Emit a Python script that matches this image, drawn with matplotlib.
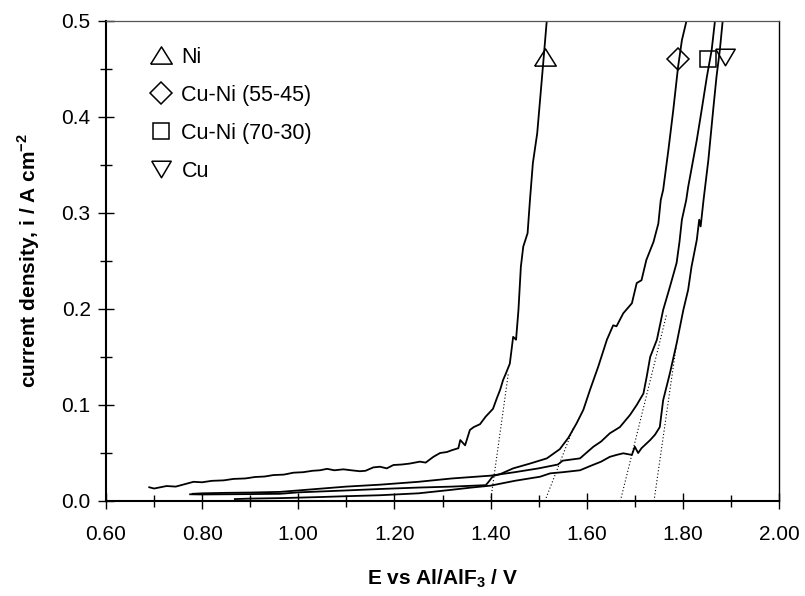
import matplotlib
matplotlib.use("Agg")
import matplotlib.pyplot as plt
from matplotlib.lines import Line2D
from matplotlib.ticker import MultipleLocator, FormatStrFormatter

plt.rcParams['font.family'] = ['Liberation Sans', 'DejaVu Sans']
plt.rcParams['mathtext.fontset'] = 'custom'
plt.rcParams['mathtext.rm'] = 'Liberation Sans'
plt.rcParams['mathtext.bf'] = 'Liberation Sans:bold'

# ---------------- data ----------------
ni_x = [0.690, 0.700, 0.726, 0.745, 0.760, 0.782, 0.800, 0.820, 0.845, 0.865, 0.890, 0.910, 0.930,
        0.948, 0.970, 0.990, 1.010, 1.030, 1.045, 1.060, 1.075, 1.094, 1.110, 1.128, 1.140, 1.156,
        1.170, 1.184, 1.198, 1.215, 1.232, 1.253, 1.265, 1.281, 1.295, 1.309, 1.320, 1.333, 1.337,
        1.347, 1.357, 1.365, 1.378, 1.390, 1.405, 1.413, 1.420, 1.426, 1.432, 1.440, 1.447, 1.453,
        1.458, 1.463, 1.468, 1.477, 1.482, 1.488, 1.497, 1.503, 1.510, 1.517, 1.520]
ni_y = [0.0143, 0.0130, 0.0156, 0.0150, 0.0170, 0.0200, 0.0195, 0.0210, 0.0215, 0.0230, 0.0235, 0.0250, 0.0255,
        0.0270, 0.0275, 0.0295, 0.0300, 0.0315, 0.0320, 0.0335, 0.0320, 0.0330, 0.0320, 0.0310, 0.0315, 0.0350,
        0.0357, 0.0340, 0.0375, 0.0380, 0.0390, 0.0410, 0.0400, 0.0460, 0.0500, 0.0510, 0.0530, 0.0550, 0.0635,
        0.0580, 0.0740, 0.0770, 0.0800, 0.0880, 0.0960, 0.1070, 0.1160, 0.1260, 0.1330, 0.1430, 0.1710, 0.1680,
        0.1990, 0.2440, 0.2650, 0.2790, 0.3140, 0.3520, 0.3830, 0.4180, 0.4590, 0.5010, 0.5200]

cuni55_x = [0.775, 0.800, 0.850, 0.900, 0.962, 1.000, 1.050, 1.100, 1.170, 1.250, 1.320, 1.390, 1.396,
            1.405, 1.420, 1.447, 1.482, 1.517, 1.544, 1.562, 1.579, 1.593, 1.607, 1.624, 1.642, 1.655,
            1.662, 1.676, 1.694, 1.704, 1.714, 1.724, 1.739, 1.749, 1.754, 1.759, 1.770, 1.780, 1.790,
            1.798, 1.808, 1.812]
cuni55_y = [0.0070, 0.0068, 0.0070, 0.0072, 0.0075, 0.0090, 0.0100, 0.0110, 0.0125, 0.0140, 0.0150, 0.0165, 0.0200,
            0.0260, 0.0280, 0.0340, 0.0390, 0.0444, 0.0540, 0.0660, 0.0810, 0.0950, 0.1160, 0.1400, 0.1680, 0.1830,
            0.1820, 0.1955, 0.2060, 0.2270, 0.2300, 0.2510, 0.2700, 0.2890, 0.3135, 0.3240, 0.3660, 0.4070, 0.4520,
            0.4800, 0.5010, 0.5200]

cuni70_x = [0.780, 0.800, 0.850, 0.900, 0.962, 1.000, 1.050, 1.100, 1.170, 1.250, 1.320, 1.400, 1.450,
            1.500, 1.540, 1.550, 1.586, 1.614, 1.630, 1.648, 1.669, 1.690, 1.704, 1.718, 1.725, 1.732,
            1.746, 1.759, 1.773, 1.787, 1.793, 1.798, 1.807, 1.811, 1.829, 1.839, 1.850, 1.860, 1.867, 1.870]
cuni70_y = [0.0075, 0.0080, 0.0085, 0.0088, 0.0095, 0.0110, 0.0130, 0.0150, 0.0170, 0.0200, 0.0235, 0.0264, 0.0300,
            0.0340, 0.0380, 0.0420, 0.0444, 0.0566, 0.0620, 0.0705, 0.0770, 0.0896, 0.1000, 0.1120, 0.1300, 0.1500,
            0.1680, 0.1990, 0.2230, 0.2480, 0.2700, 0.2930, 0.3135, 0.3270, 0.3760, 0.4070, 0.4420, 0.4700, 0.5010, 0.5150]

cu_x = [0.868, 0.900, 0.962, 1.000, 1.050, 1.100, 1.170, 1.250, 1.316, 1.360, 1.400, 1.450, 1.503,
        1.524, 1.550, 1.586, 1.610, 1.630, 1.648, 1.662, 1.676, 1.694, 1.700, 1.707, 1.714, 1.732,
        1.742, 1.752, 1.759, 1.773, 1.787, 1.801, 1.811, 1.818, 1.829, 1.834, 1.837, 1.843, 1.853,
        1.863, 1.870, 1.877, 1.883, 1.886]
cu_y = [0.0020, 0.0025, 0.0030, 0.0035, 0.0042, 0.0050, 0.0060, 0.0080, 0.0115, 0.0140, 0.0160, 0.0210, 0.0253,
        0.0288, 0.0300, 0.0320, 0.0370, 0.0410, 0.0460, 0.0480, 0.0497, 0.0480, 0.0566, 0.0500, 0.0550, 0.0635,
        0.0690, 0.0770, 0.1050, 0.1330, 0.1640, 0.1990, 0.2200, 0.2440, 0.2720, 0.2930, 0.2860, 0.3135, 0.3550,
        0.4070, 0.4420, 0.4700, 0.5010, 0.5150]

# tangent (onset) lines
tan_ni_x, tan_ni_y = [1.400, 1.437], [0.0, 0.133]
tan_55_x, tan_55_y = [1.513, 1.573], [0.0, 0.077]
tan_70_x, tan_70_y = [1.670, 1.766], [0.0, 0.194]
tan_cu_x, tan_cu_y = [1.740, 1.787], [0.0, 0.164]

# marker positions on curves
mark_x = [1.513, 1.790, 1.853, 1.888]
mark_y = [0.463, 0.460, 0.460, 0.462]

labels = ["Ni", "Cu-Ni (55-45)", "Cu-Ni (70-30)", "Cu"]

# ---------------- figure ----------------
fig = plt.figure(figsize=(8.05, 5.96), dpi=100)
ax = fig.add_axes([106/805, 1-501/596, (779-106)/805, (501-21)/596])

lw = 1.3
for xs, ys in [(ni_x, ni_y), (cuni55_x, cuni55_y), (cuni70_x, cuni70_y), (cu_x, cu_y)]:
    ax.plot(xs, ys, color='black', lw=lw)

for xs, ys in [(tan_ni_x, tan_ni_y), (tan_55_x, tan_55_y), (tan_70_x, tan_70_y), (tan_cu_x, tan_cu_y)]:
    ax.plot(xs, ys, color='black', lw=0.8, linestyle=(0, (1, 2)))

tri_up = [(-1, -0.8), (1, -0.8), (0, 0.8), (-1, -0.8)]
tri_dn = [(-1, 0.85), (1, 0.85), (0, -0.85), (-1, 0.85)]
markers = [tri_up, 'D', 's', tri_dn]
msizes = [15.5, 11.7, 12.2, 14.0]

handles = []
for i in range(4):
    ax.plot([mark_x[i]], [mark_y[i]], linestyle='none', marker=markers[i], ms=msizes[i],
            mfc='none', mec='black', mew=1.1, clip_on=False)
    handles.append(Line2D([], [], linestyle='none', marker=markers[i], ms=msizes[i],
                          mfc='none', mec='black', mew=1.1, label=labels[i]))

leg = ax.legend(handles=handles, loc='upper left', bbox_to_anchor=(0.053, 0.964), frameon=False,
                fontsize=15.5, handlelength=1.0, handletextpad=0.45, labelspacing=0.79, borderaxespad=0)

ax.set_xlim(0.6, 2.0)
ax.set_ylim(0.0, 0.5)
ax.xaxis.set_major_locator(MultipleLocator(0.2))
ax.xaxis.set_minor_locator(MultipleLocator(0.1))
ax.yaxis.set_major_locator(MultipleLocator(0.1))
ax.yaxis.set_minor_locator(MultipleLocator(0.05))
ax.xaxis.set_major_formatter(FormatStrFormatter('%.2f'))
ax.yaxis.set_major_formatter(FormatStrFormatter('%.1f'))

ax.tick_params(which='major', direction='inout', length=12, width=1.0, labelsize=15,
               top=False, right=False)
ax.tick_params(axis='x', which='major', pad=11)
ax.tick_params(axis='y', which='major', pad=5)
ax.tick_params(which='minor', direction='inout', length=9, width=1.0, top=False, right=False)

for s in ['left', 'bottom']:
    ax.spines[s].set_linewidth(1.5)
ax.spines['right'].set_linewidth(1.0)
ax.spines['top'].set_linewidth(0.9)
ax.spines['top'].set_color('#555555')

ax.set_xlabel(r"E vs Al/AlF$_\mathbf{3}$ / V", fontsize=15, fontweight='bold', labelpad=17)
ax.set_ylabel(r"current density, i / A cm$^{\mathbf{-2}}$", fontsize=15, fontweight='bold', labelpad=14)

fig.savefig("out.png", dpi=100)
